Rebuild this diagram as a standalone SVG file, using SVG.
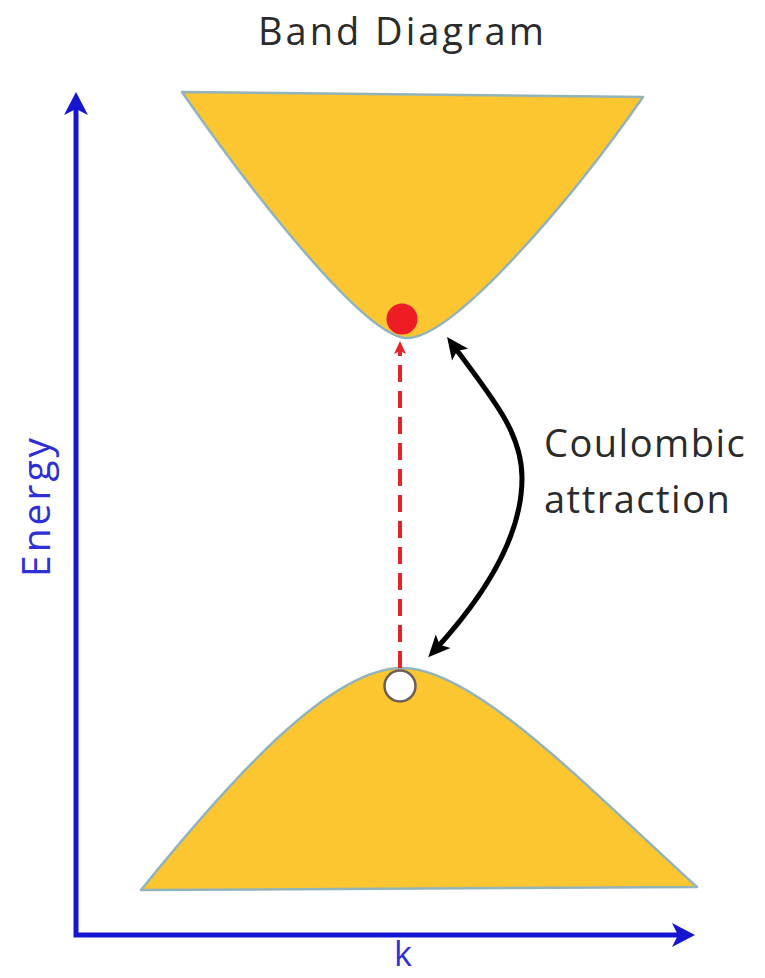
<svg xmlns="http://www.w3.org/2000/svg" width="765" height="978" viewBox="0 0 765 978">
<style>
.band{fill:#FCC630;stroke:#93b3bb;stroke-width:2.5;stroke-linejoin:round}
.lbl{font-family:"Open Sans","Noto Sans",sans-serif;fill:#2b2b2b;letter-spacing:1.5px}
.blue{font-family:"Open Sans","Noto Sans",sans-serif;fill:#2f2fd6;letter-spacing:3px}
</style>
<defs>
<marker id="ab" markerUnits="userSpaceOnUse" viewBox="-24 -13 26 26" refX="-8" refY="0" markerWidth="26" markerHeight="26" orient="auto-start-reverse">
<path d="M0,0 L-23,-12 L-17,0 L-23,12 Z" fill="#1616d2"/>
</marker>
<marker id="ak" markerUnits="userSpaceOnUse" viewBox="-24 -12 26 24" refX="-10" refY="0" markerWidth="26" markerHeight="24" orient="auto-start-reverse">
<path d="M0,0 L-22,-10 L-17,0 L-22,10 Z" fill="#000"/>
</marker>
<marker id="ar" markerUnits="userSpaceOnUse" viewBox="-14 -7 16 14" refX="-6" refY="0" markerWidth="16" markerHeight="14" orient="auto">
<path d="M0,0 L-13,-6 L-10,0 L-13,6 Z" fill="#e5232a"/>
</marker>
</defs>
<rect width="765" height="978" fill="#fff"/>
<text id="title" class="lbl" x="258" y="45" font-size="38" style="letter-spacing:3px">Band Diagram</text>
<g id="conduction-band">
<path class="band" d="M182,92 L643,97 C575,195 455,338 407,338 C365,338 250,190 182,92 Z"/>
</g>
<g id="valence-band">
<path class="band" d="M141,890 C230,780 330,668 402,668 C475,668 590,790 697,887 Z"/>
</g>
<g id="connectors">
<path d="M76,100 L76,935 L687,935" fill="none" stroke="#1616d2" stroke-width="5" marker-start="url(#ab)" marker-end="url(#ab)"/>
<line x1="400" y1="668" x2="400" y2="347" stroke="#e5232a" stroke-width="4" stroke-dasharray="17,9" marker-end="url(#ar)"/>
<path d="M453,345 C492,398 522,432 522,478 C522,530 492,588 435,650" fill="none" stroke="#000" stroke-width="5" marker-start="url(#ak)" marker-end="url(#ak)"/>
</g>
<g id="electron">
<circle cx="402" cy="319" r="15.5" fill="#ee1c24"/>
</g>
<g id="hole">
<circle cx="400" cy="686" r="15.5" fill="#fff" stroke="#6d5d58" stroke-width="2.5"/>
</g>
<g id="label-coulombic">
<text class="lbl" x="544" y="457" font-size="38">Coulombic</text>
<text class="lbl" x="544" y="513" font-size="38">attraction</text>
</g>
<g id="axis-labels">
<text class="blue" transform="translate(50,577) rotate(-90)" font-size="39">Energy</text>
<text class="blue" x="394" y="966" font-size="34" style="letter-spacing:0">k</text>
</g>
</svg>
